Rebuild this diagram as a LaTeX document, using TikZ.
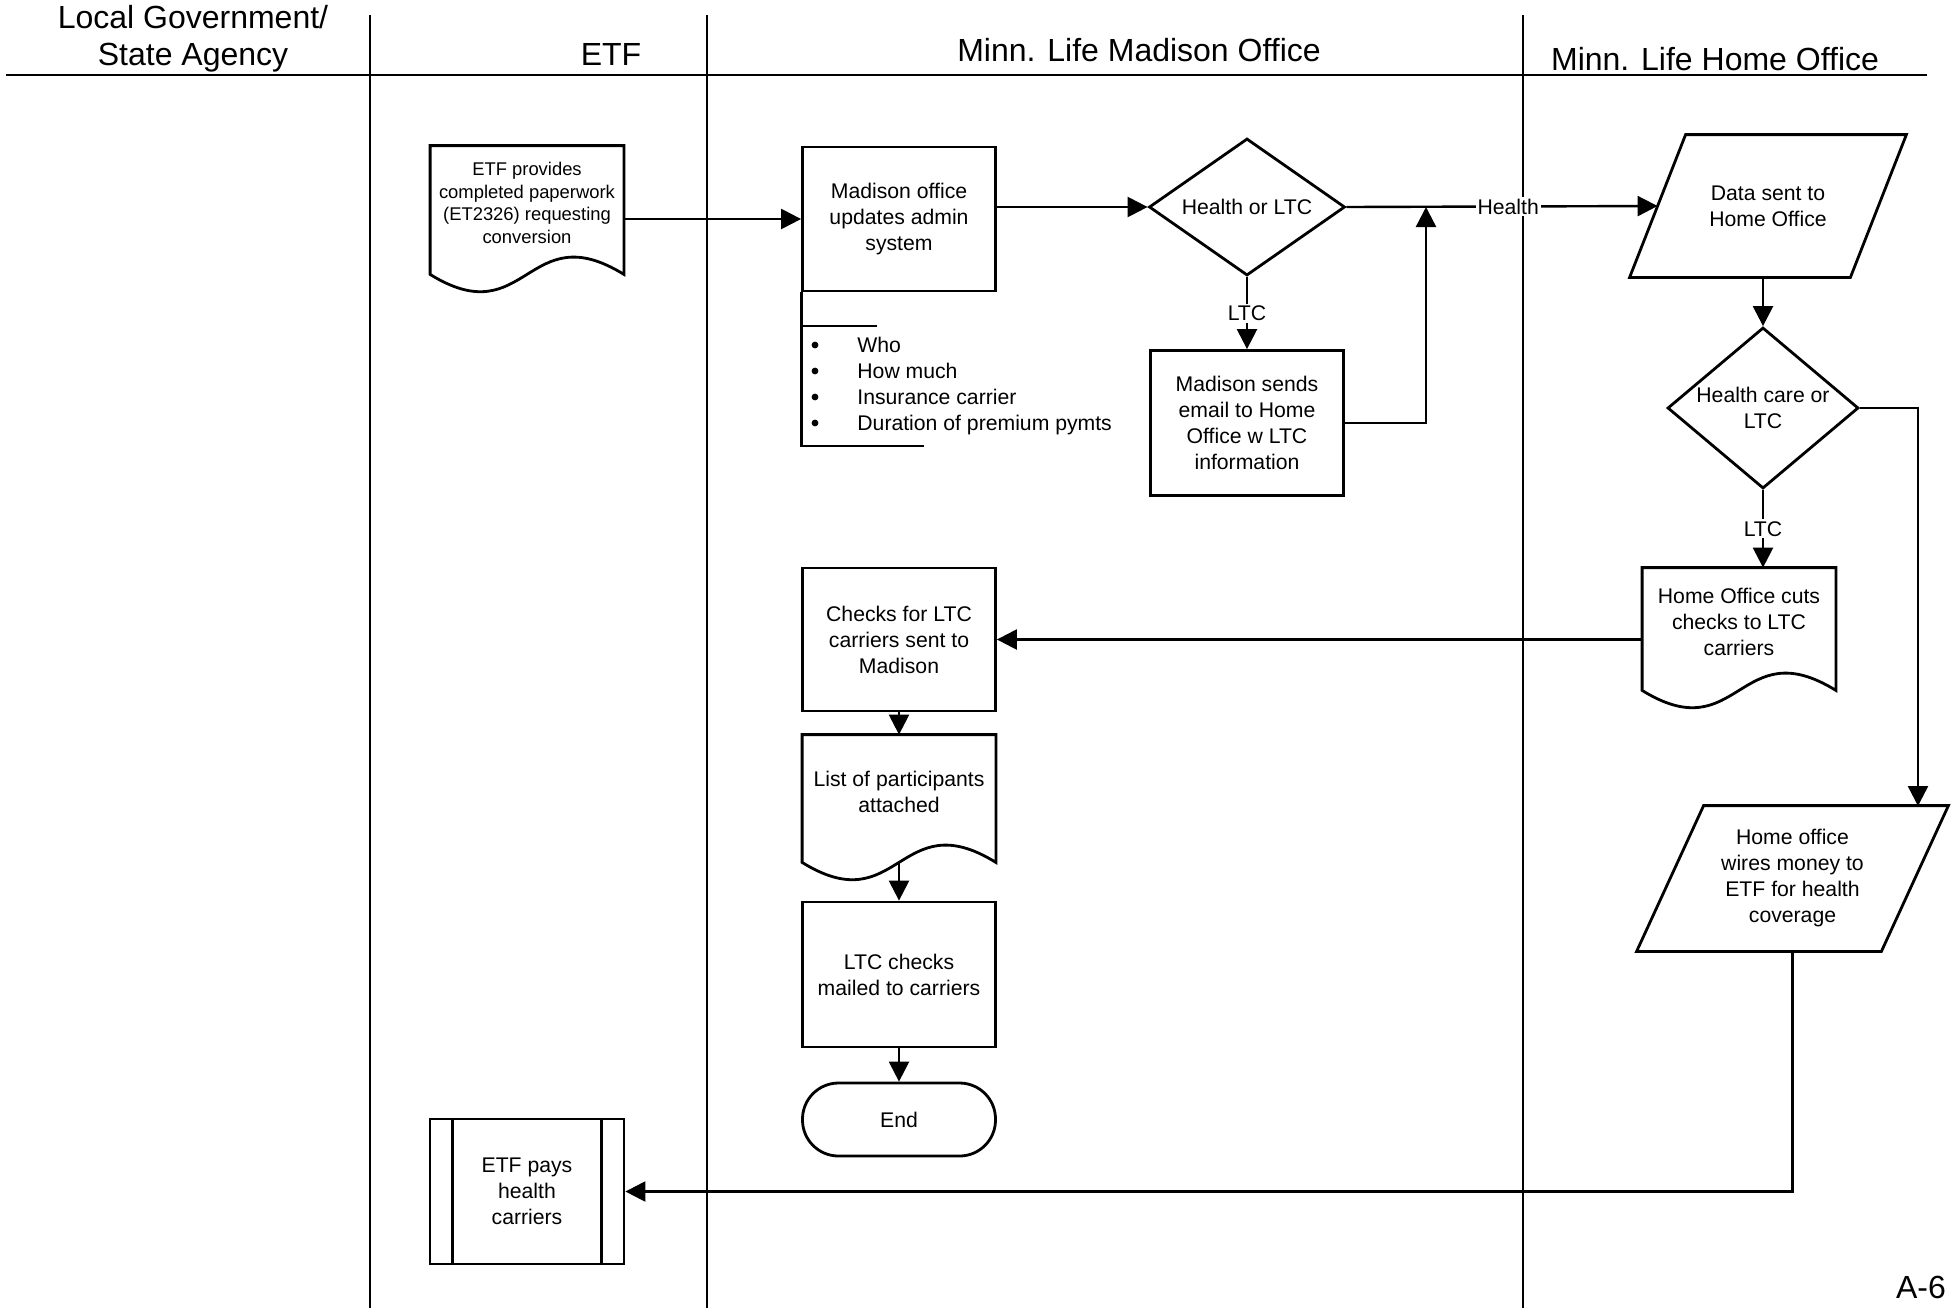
\documentclass[tikz,border=0pt]{standalone}
\usepackage{fontspec}
\setmainfont{Liberation Sans}
\usetikzlibrary{shapes.geometric,arrows.meta}

% outline of a document shape with a wavy bottom
\newcommand{\docoutline}[1]{%
  \draw[line width=1.4pt] ([yshift=-7pt]#1.south west) -- (#1.north west) -- (#1.north east) -- ([yshift=-7pt]#1.south east)
    .. controls ([yshift=23pt]#1.south) and ([yshift=-37pt]#1.south) .. cycle;}
% outline of a data (parallelogram) shape
\newcommand{\iooutline}[2]{%
  \draw[line width=1.4pt] ([xshift=#2]#1.north west) -- ([xshift=#2]#1.north east)
    -- ([xshift=-#2]#1.south east) -- ([xshift=-#2]#1.south west) -- cycle;}

\begin{document}
\begin{tikzpicture}[x=0.5pt,y=-0.5pt,
  every node/.style={font=\fontsize{10.6}{13}\selectfont},
  lane/.style={line width=0.8pt},
  hdr/.style={font=\fontsize{16}{18.5}\selectfont,align=center},
  procbox/.style={draw,line width=1.4pt,minimum width=96.5pt,minimum height=72pt,align=center,inner sep=2pt},
  docbox/.style={minimum width=96.5pt,align=center,inner sep=2pt},
  iobox/.style={align=center,inner sep=2pt},
  decision/.style={diamond,draw,line width=1.4pt,align=center,inner sep=0pt},
  flow/.style={line width=1.2pt,-{Triangle[length=10pt,width=10pt]}},
  lbl/.style={fill=white,inner sep=1pt}]
  \useasboundingbox (0,0) rectangle (1956,1308);

  % swim lanes
  \draw[line width=1.2pt] (6,75) -- (1927,75);
  \foreach \x in {370,707,1523}
    \draw[lane] (\x,15) -- (\x,1308);
  \node[hdr] (hlocal) at (193,39) {Local Government/\\State Agency};
  \node[hdr] (hetf) at (611,54) {ETF};
  \node[hdr] (hmad) at (1139,50) {Minn. Life Madison Office};
  \node[hdr] (hhome) at (1715,59) {Minn. Life Home Office};

  % ETF
  \node[docbox,minimum height=57pt,font=\fontsize{9.2}{11.2}\selectfont] (etfdoc) at (527,203)
    {ETF provides\\completed paperwork\\(ET2326) requesting\\conversion};
  \docoutline{etfdoc}
  \node[procbox,minimum width=97pt,minimum height=72.5pt] (etfpays) at (527,1191.5) {ETF pays\\health\\carriers};
  \draw[line width=1.4pt] ([xshift=12pt]etfpays.north west) -- ([xshift=12pt]etfpays.south west);
  \draw[line width=1.4pt] ([xshift=-12pt]etfpays.north east) -- ([xshift=-12pt]etfpays.south east);

  % Madison office
  \node[procbox] (madbox) at (899,219) {Madison office\\updates admin\\system};
  \coordinate (notetick) at (877,326);
  \draw[line width=1.4pt] (madbox.south west |- notetick) -- (notetick);
  \draw[line width=1.4pt] (madbox.south west) |- (924,446);
  \node[anchor=west,align=left,inner sep=0pt] (notes) at (857,386)
    {Who\\How much\\Insurance carrier\\Duration of premium pymts};
  \foreach \y in {345,371,397,423}
    \fill (815,\y) circle (1.7pt);
  \node[decision,minimum width=98pt,minimum height=68.5pt,aspect=1.43] (hldec) at (1247,207) {Health or LTC};
  \node[procbox,minimum height=72.5pt] (emailbox) at (1247,423) {Madison sends\\email to Home\\Office w LTC\\information};
  \node[procbox,minimum height=71.5pt] (checksbox) at (899,639.5) {Checks for LTC\\carriers sent to\\Madison};
  \node[docbox,minimum height=56.5pt] (listdoc) at (899,791.5) {List of participants\\attached};
  \docoutline{listdoc}
  \node[procbox,minimum height=72.5pt] (ltcbox) at (899,974.5) {LTC checks\\mailed to carriers};
  \node[procbox,minimum height=36.5pt,rounded corners=18pt] (endterm) at (899,1119.5) {End};

  % Home office
  \node[iobox,minimum width=110pt,minimum height=71pt] (datapar) at (1768,206) {Data sent to\\Home Office};
  \iooutline{datapar}{14pt}
  \node[decision,minimum width=95.5pt,minimum height=80.5pt,aspect=1.19] (hcdec) at (1763,408) {Health care or\\LTC};
  \node[docbox,minimum height=54pt] (cutsdoc) at (1739,622) {Home Office cuts\\checks to LTC\\carriers};
  \docoutline{cutsdoc}
  \node[iobox,minimum width=122pt,minimum height=72.5pt] (wirespar) at (1792.5,878.5)
    {Home office\\wires money to\\ETF for health\\coverage};
  \iooutline{wirespar}{16.75pt}

  % connectors
  \coordinate (merge) at (1426,207);
  \coordinate (wirein) at (1918,806);
  \draw[flow] (etfdoc.east |- madbox.west) -- (madbox.west);
  \draw[flow] (madbox.east |- hldec.west) -- (hldec.west);
  \draw[flow] (hldec.east) -- node[lbl,pos=0.52] {Health} (datapar.west);
  \draw[flow] (hldec.south) -- node[lbl] {LTC} (emailbox.north);
  \draw[flow] (emailbox.east) -| (merge);
  \draw[flow] (datapar.south -| hcdec.north) -- (hcdec.north);
  \draw[flow] (hcdec.south) -- node[lbl] {LTC} (hcdec.south |- cutsdoc.north);
  \draw[flow] (cutsdoc.west |- checksbox.east) -- (checksbox.east);
  \draw[flow] (hcdec.east) -| (wirein);
  \draw[flow] (checksbox.south) -- (listdoc.north);
  \draw[flow] ([yshift=-7pt]listdoc.south) -- (ltcbox.north);
  \draw[flow] (ltcbox.south) -- (endterm.north);
  \draw[flow] (wirespar.south) |- (etfpays.east);

  \node[font=\fontsize{16}{18}\selectfont] (pagenum) at (1921,1287) {A-6};
\end{tikzpicture}
\end{document}
